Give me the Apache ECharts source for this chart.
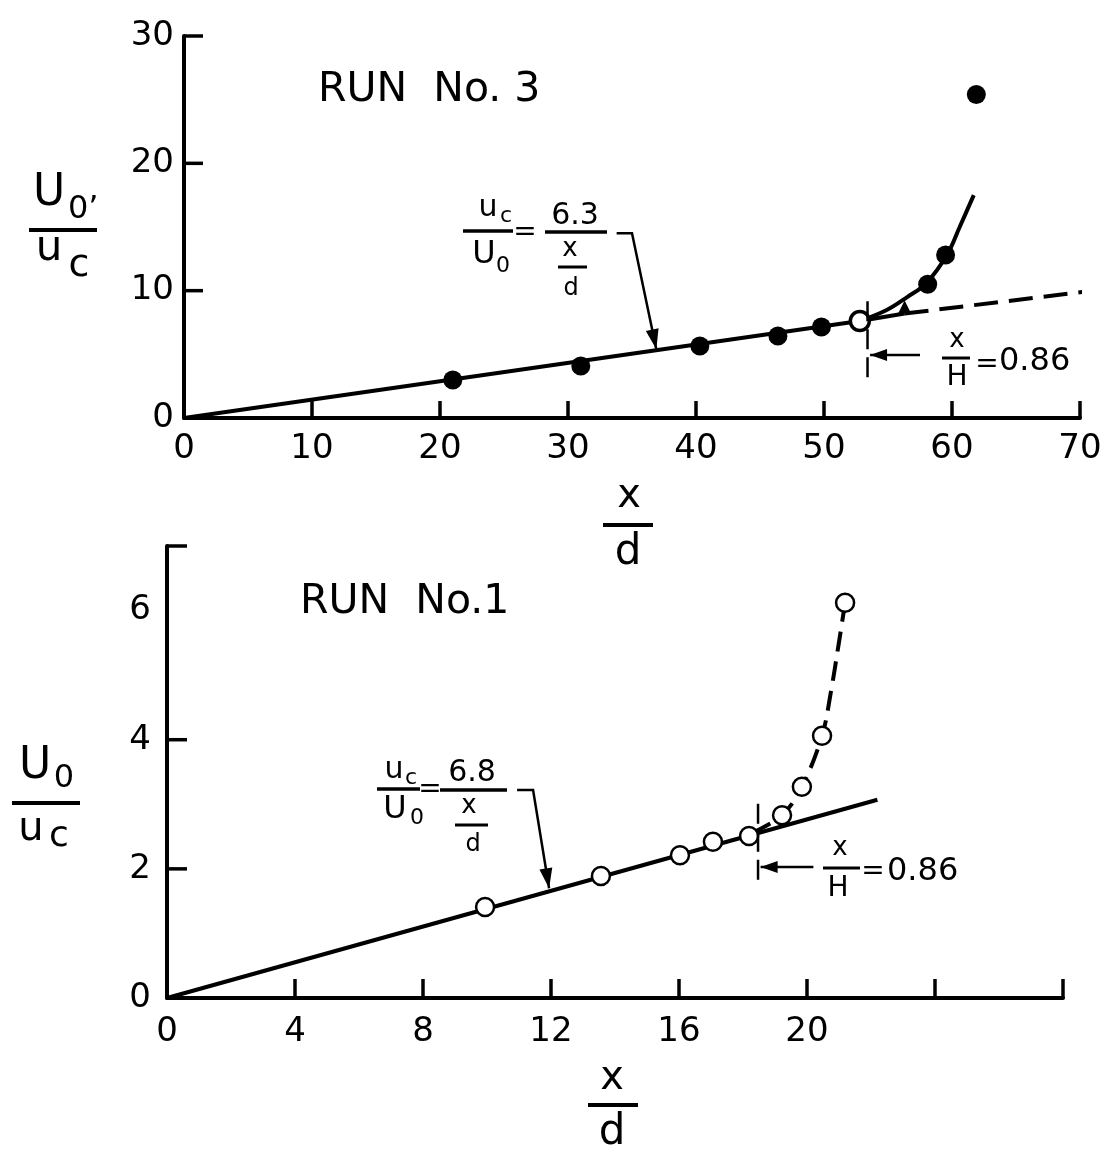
<!DOCTYPE html>
<html><head><meta charset="utf-8">
<script src="https://cdn.jsdelivr.net/npm/echarts@6/dist/echarts.min.js"></script>
<style>html,body{margin:0;padding:0;background:#fff}#c{width:1111px;height:1163px}</style>
</head><body><div id="c"></div>
<script>
// ---- RUN No. 3 (top panel) ----
const run3X = [21.0, 31.0, 40.3, 46.4, 49.8, 52.8, 58.1, 59.5, 61.9];
const run3Y = [2.99, 4.08, 5.66, 6.44, 7.15, 7.62, 10.5, 12.8, 25.4];
const run3TriX = [56.3];
const run3TriY = [8.72];
const run3FitX = [0, 52.8, 56.3];
const run3FitY = [0, 7.62, 8.2];
const run3ExtX = [56.3, 70.2];
const run3ExtY = [8.2, 9.9];
const run3CurveX = [52.8, 54.9, 56.5, 58.0, 59.6, 60.6, 61.7];
const run3CurveY = [7.62, 8.48, 9.5, 10.6, 12.8, 15.0, 17.5];
const run3XTicks = [10, 20, 30, 40, 50, 60, 70];
const run3XLabels = [0, 10, 20, 30, 40, 50, 60, 70];
const run3YTicks = [10, 20, 30];
const run3YLabels = [0, 10, 20, 30];

// ---- RUN No. 1 (bottom panel) ----
const run1X = [9.94, 13.56, 16.03, 17.06, 18.19, 19.22, 19.84, 20.47, 21.19];
const run1Y = [1.41, 1.89, 2.21, 2.42, 2.51, 2.83, 3.27, 4.06, 6.12];
const run1FitX = [0, 22.2];
const run1FitY = [0, 3.07];
const run1CurveX = [18.3, 19.22, 19.84, 20.47, 20.75, 20.98, 21.19];
const run1CurveY = [2.56, 2.83, 3.27, 4.06, 4.75, 5.45, 6.12];
const run1XTicks = [4, 8, 12, 16, 20, 24, 28];
const run1XLabels = [0, 4, 8, 12, 16, 20];
const run1YTicks = [2, 4, 7];
const run1YLabels = [0, 2, 4, 6];

const zip = (a, b) => a.map((v, i) => [v, b[i]]);
const FONT = '"DejaVu Sans", Lato, sans-serif';
const K = '#000';

const chart = echarts.init(document.getElementById('c'), null, {renderer: 'canvas'});

function ax(grid, min, max, interval, labelVals, margin) {
  return {
    gridIndex: grid, type: 'value', min, max, interval,
    axisLine: {show: true, onZero: false, lineStyle: {color: K, width: 4}},
    axisTick: {show: false},
    axisLabel: {show: true, margin, fontSize: 34, color: K, fontFamily: FONT, customValues: labelVals},
    splitLine: {show: false}
  };
}

const run3Scatter = zip(run3X, run3Y).map((p, i) => i === 5
  ? {value: p, itemStyle: {color: '#fff', borderColor: K, borderWidth: 3.5, opacity: 1}}
  : {value: p});

chart.setOption({
  animation: false,
  backgroundColor: '#fff',
  grid: [
    {left: 184, top: 36, width: 896, height: 382},
    {left: 167, top: 546, width: 896, height: 452}
  ],
  xAxis: [
    ax(0, 0, 70, 10, run3XLabels, 14),
    ax(1, 0, 28, 4, run1XLabels, 17)
  ],
  yAxis: [
    ax(0, 0, 30, 10, run3YLabels, 10),
    ax(1, 0, 7, 1, run1YLabels, 16)
  ],
  series: [
    {type: 'line', xAxisIndex: 0, yAxisIndex: 0, data: zip(run3FitX, run3FitY), symbol: 'none',
     lineStyle: {color: K, width: 4}, z: 2},
    {type: 'line', xAxisIndex: 0, yAxisIndex: 0, data: zip(run3ExtX, run3ExtY), symbol: 'none',
     lineStyle: {color: K, width: 4, type: [24, 11]}, z: 2},
    {type: 'line', xAxisIndex: 0, yAxisIndex: 0, data: zip(run3CurveX, run3CurveY), symbol: 'none', smooth: 0.4,
     lineStyle: {color: K, width: 4}, z: 2},
    {type: 'scatter', xAxisIndex: 0, yAxisIndex: 0, data: run3Scatter, symbolSize: 19,
     itemStyle: {color: K, opacity: 1}, z: 5},
    {type: 'scatter', xAxisIndex: 0, yAxisIndex: 0, data: zip(run3TriX, run3TriY), symbol: 'triangle', symbolSize: 13,
     itemStyle: {color: K, opacity: 1}, z: 5},

    {type: 'line', xAxisIndex: 1, yAxisIndex: 1, data: zip(run1FitX, run1FitY), symbol: 'none',
     lineStyle: {color: K, width: 4}, z: 2},
    {type: 'line', xAxisIndex: 1, yAxisIndex: 1, data: zip(run1CurveX, run1CurveY), symbol: 'none', smooth: 0.35,
     lineStyle: {color: K, width: 4, type: [20, 10]}, z: 2},
    {type: 'scatter', xAxisIndex: 1, yAxisIndex: 1, data: zip(run1X, run1Y), symbolSize: 18,
     itemStyle: {color: '#fff', borderColor: K, borderWidth: 2.5, opacity: 1}, z: 5}
  ]
});

// ---- annotations ----
const px = (g, p) => chart.convertToPixel({gridIndex: g}, p);
const G = [];
function T(text, x, y, size, align, extra) {
  G.push({type: 'text', z: 100, style: Object.assign({text, x, y, fontSize: size, fontFamily: FONT,
    fill: K, align: align || 'center', verticalAlign: 'middle'}, extra || {})});
}
function seg(a, b, w) {
  G.push({type: 'line', z: 100, shape: {x1: a[0], y1: a[1], x2: b[0], y2: b[1]}, style: {stroke: K, lineWidth: w || 3, lineCap: 'butt'}});
}
function bar(x1, x2, y, w) { seg([x1, y], [x2, y], w || 3.5); }
function poly(pts, dash, w) {
  G.push({type: 'polyline', z: 100, shape: {points: pts}, style: {stroke: K, fill: null, lineWidth: w || 2.5, lineDash: dash || null}});
}
function head(tip, from, len, wid) {
  const dx = tip[0] - from[0], dy = tip[1] - from[1];
  const L = Math.hypot(dx, dy), ux = dx / L, uy = dy / L;
  const bx = tip[0] - ux * len, by = tip[1] - uy * len;
  G.push({type: 'polygon', z: 101, shape: {points: [tip, [bx - uy * wid / 2, by + ux * wid / 2], [bx + uy * wid / 2, by - ux * wid / 2]]},
    style: {fill: K}});
}

// inward axis ticks
run3XTicks.forEach(v => { const p = px(0, [v, 0]); seg([p[0], p[1]], [p[0], p[1] - 17], 3.5); });
run3YTicks.forEach(v => { const p = px(0, [0, v]); seg([p[0], p[1]], [p[0] + 19, p[1]], 3.5); });
run1XTicks.forEach(v => { const p = px(1, [v, 0]); seg([p[0], p[1]], [p[0], p[1] - 19], 3.5); });
run1YTicks.forEach(v => { const p = px(1, [0, v]); seg([p[0], p[1]], [p[0] + 20, p[1]], 3.5); });

// leaders to the fit lines
const lead3 = [[33.8, 14.5], [35.0, 14.5], [36.9, 5.4]].map(p => px(0, p));
poly(lead3, null, 2.5); head(lead3[2], lead3[1], 20, 13);
const lead1 = [[10.94, 3.22], [11.44, 3.22], [11.94, 1.70]].map(p => px(1, p));
poly(lead1, null, 2.5); head(lead1[2], lead1[1], 20, 13);

// x/H = 0.86 markers
const m3 = [[53.4, 3.2], [53.4, 9.5]].map(p => px(0, p));
poly(m3, [20, 8], 2.5);
const a3 = [[57.5, 4.95], [53.6, 4.95]].map(p => px(0, p));
poly(a3, null, 2.5); head(a3[1], a3[0], 17, 12);
const m1 = [[18.47, 1.83], [18.47, 3.07]].map(p => px(1, p));
poly(m1, [20, 8], 2.5);
const a1 = [[20.2, 2.03], [18.55, 2.03]].map(p => px(1, p));
poly(a1, null, 2.5); head(a1[1], a1[0], 17, 12);

// titles
T('RUN  No. 3', 318, 90, 41, 'left');
T('RUN  No.1', 300, 602, 41, 'left');

// y-axis names
T('U', 49, 194, 44); T('0\u2019', 68, 210, 32, 'left'); bar(29, 97, 230, 4);
T('u', 49, 249, 42); T('c', 79, 266, 38);
T('U', 35, 767, 44); T('0', 64, 779, 32); bar(12, 80, 803, 4);
T('u', 31, 830, 40); T('c', 59, 837, 36);

// x-axis names
T('x', 629, 497, 40); bar(603, 653, 525, 4); T('d', 628, 553, 42);
T('x', 612, 1079, 40); bar(588, 638, 1105, 4); T('d', 612, 1133, 42);

// equations
T('u', 488, 208, 30); T('c', 506, 216, 22); bar(463, 513, 231, 3.5);
T('U', 484, 255, 32); T('0', 503, 266, 22);
T('=', 525, 233, 28);
T('6.3', 575, 216, 30); bar(545, 607, 232, 3.5);
T('x', 570, 249, 26); bar(558, 587, 267, 3); T('d', 571, 289, 24);

T('u', 394, 770, 30); T('c', 411, 778, 22); bar(377, 420, 789, 3.5);
T('U', 395, 810, 32); T('0', 417, 818, 22);
T('=', 430, 790, 28);
T('6.8', 472, 773, 30); bar(440, 507, 790, 3.5);
T('x', 469, 806, 26); bar(455, 488, 825, 3); T('d', 473, 845, 24);

// x/H = 0.86 labels
T('x', 957, 340, 26); bar(942, 970, 358, 3); T('H', 957, 378, 28);
T('=', 987, 365, 28); T('0.86', 999, 362, 32, 'left');
T('x', 840, 848, 26); bar(823, 860, 868, 3); T('H', 838, 889, 28);
T('=', 873, 872, 28); T('0.86', 887, 872, 32, 'left');

chart.setOption({graphic: G});
</script></body></html>
